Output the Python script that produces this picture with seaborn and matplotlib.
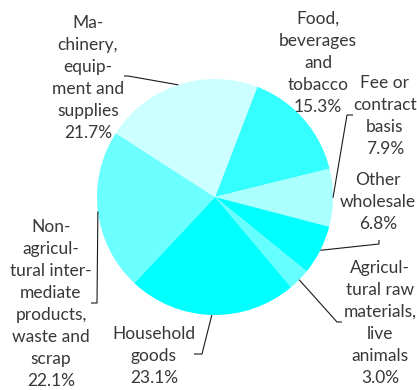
import numpy as np
import matplotlib
matplotlib.use("Agg")
import matplotlib.pyplot as plt
import seaborn as sns

# Wholesale trade by kind of business, share of total (%)
categories = [
    "Food,\nbeverages\nand\ntobacco",
    "Fee or\ncontract\nbasis",
    "Other\nwholesale",
    "Agricul-\ntural raw\nmaterials,\nlive\nanimals",
    "Household\ngoods",
    "Non-\nagricul-\ntural inter-\nmediate\nproducts,\nwaste and\nscrap",
    "Ma-\nchinery,\nequip-\nment and\nsupplies",
]
shares = [15.3, 7.9, 6.8, 3.0, 23.1, 22.1, 21.7]
colors = ["#33ffff", "#aaffff", "#00ffff", "#66ffff", "#00ffff", "#6cffff", "#ccffff"]

# label layout in pixel units: text centre x, first baseline y, leader elbow and end
label_x = [318, 385, 378, 380, 154, 51, 88]
label_y0 = [24, 88, 185, 273, 339, 232, 28]
leader_pts = [
    None,
    [(347, 115), (353, 115)],
    [(379, 244), (379, 240)],
    [(337, 322), (342, 322)],
    [(202, 354), (194, 354)],
    [(97, 303), (91, 303)],
    [(128, 76), (124, 76)],
]

W, H = 417, 390
CX, CY, R = 215, 197, 118
LINE_STEP = 22

sns.set_theme(style="white")
plt.rcParams["font.family"] = ["Lato", "DejaVu Sans"]

fig = plt.figure(figsize=(W / 100, H / 100), dpi=100)
ax = fig.add_axes([0, 0, 1, 1])

def py(y):
    return H - y

wedges, _ = ax.pie(
    shares,
    colors=colors,
    startangle=69,
    counterclock=False,
    center=(CX, py(CY)),
    radius=R,
    wedgeprops=dict(linewidth=0, antialiased=True),
)

ax.set_xlim(0, W)
ax.set_ylim(0, H)
ax.set_aspect("equal")
ax.axis("off")

text_color = "#383838"
for i, (cat, val) in enumerate(zip(categories, shares)):
    lines = cat.split("\n") + [f"{val:.1f}%"]
    for k, line in enumerate(lines):
        ax.text(label_x[i], py(label_y0[i] + k * LINE_STEP), line,
                ha="center", va="baseline", fontsize=12.5, color=text_color)
    if leader_pts[i] is not None:
        w = wedges[i]
        mid = np.deg2rad((w.theta1 + w.theta2) / 2)
        sx = CX + R * np.cos(mid)
        sy = py(CY) + R * np.sin(mid)
        xs = [sx] + [p[0] for p in leader_pts[i]]
        ys = [sy] + [py(p[1]) for p in leader_pts[i]]
        ax.plot(xs, ys, color="#1a1a1a", lw=0.8, solid_capstyle="butt")

fig.savefig("out.png", dpi=100)
